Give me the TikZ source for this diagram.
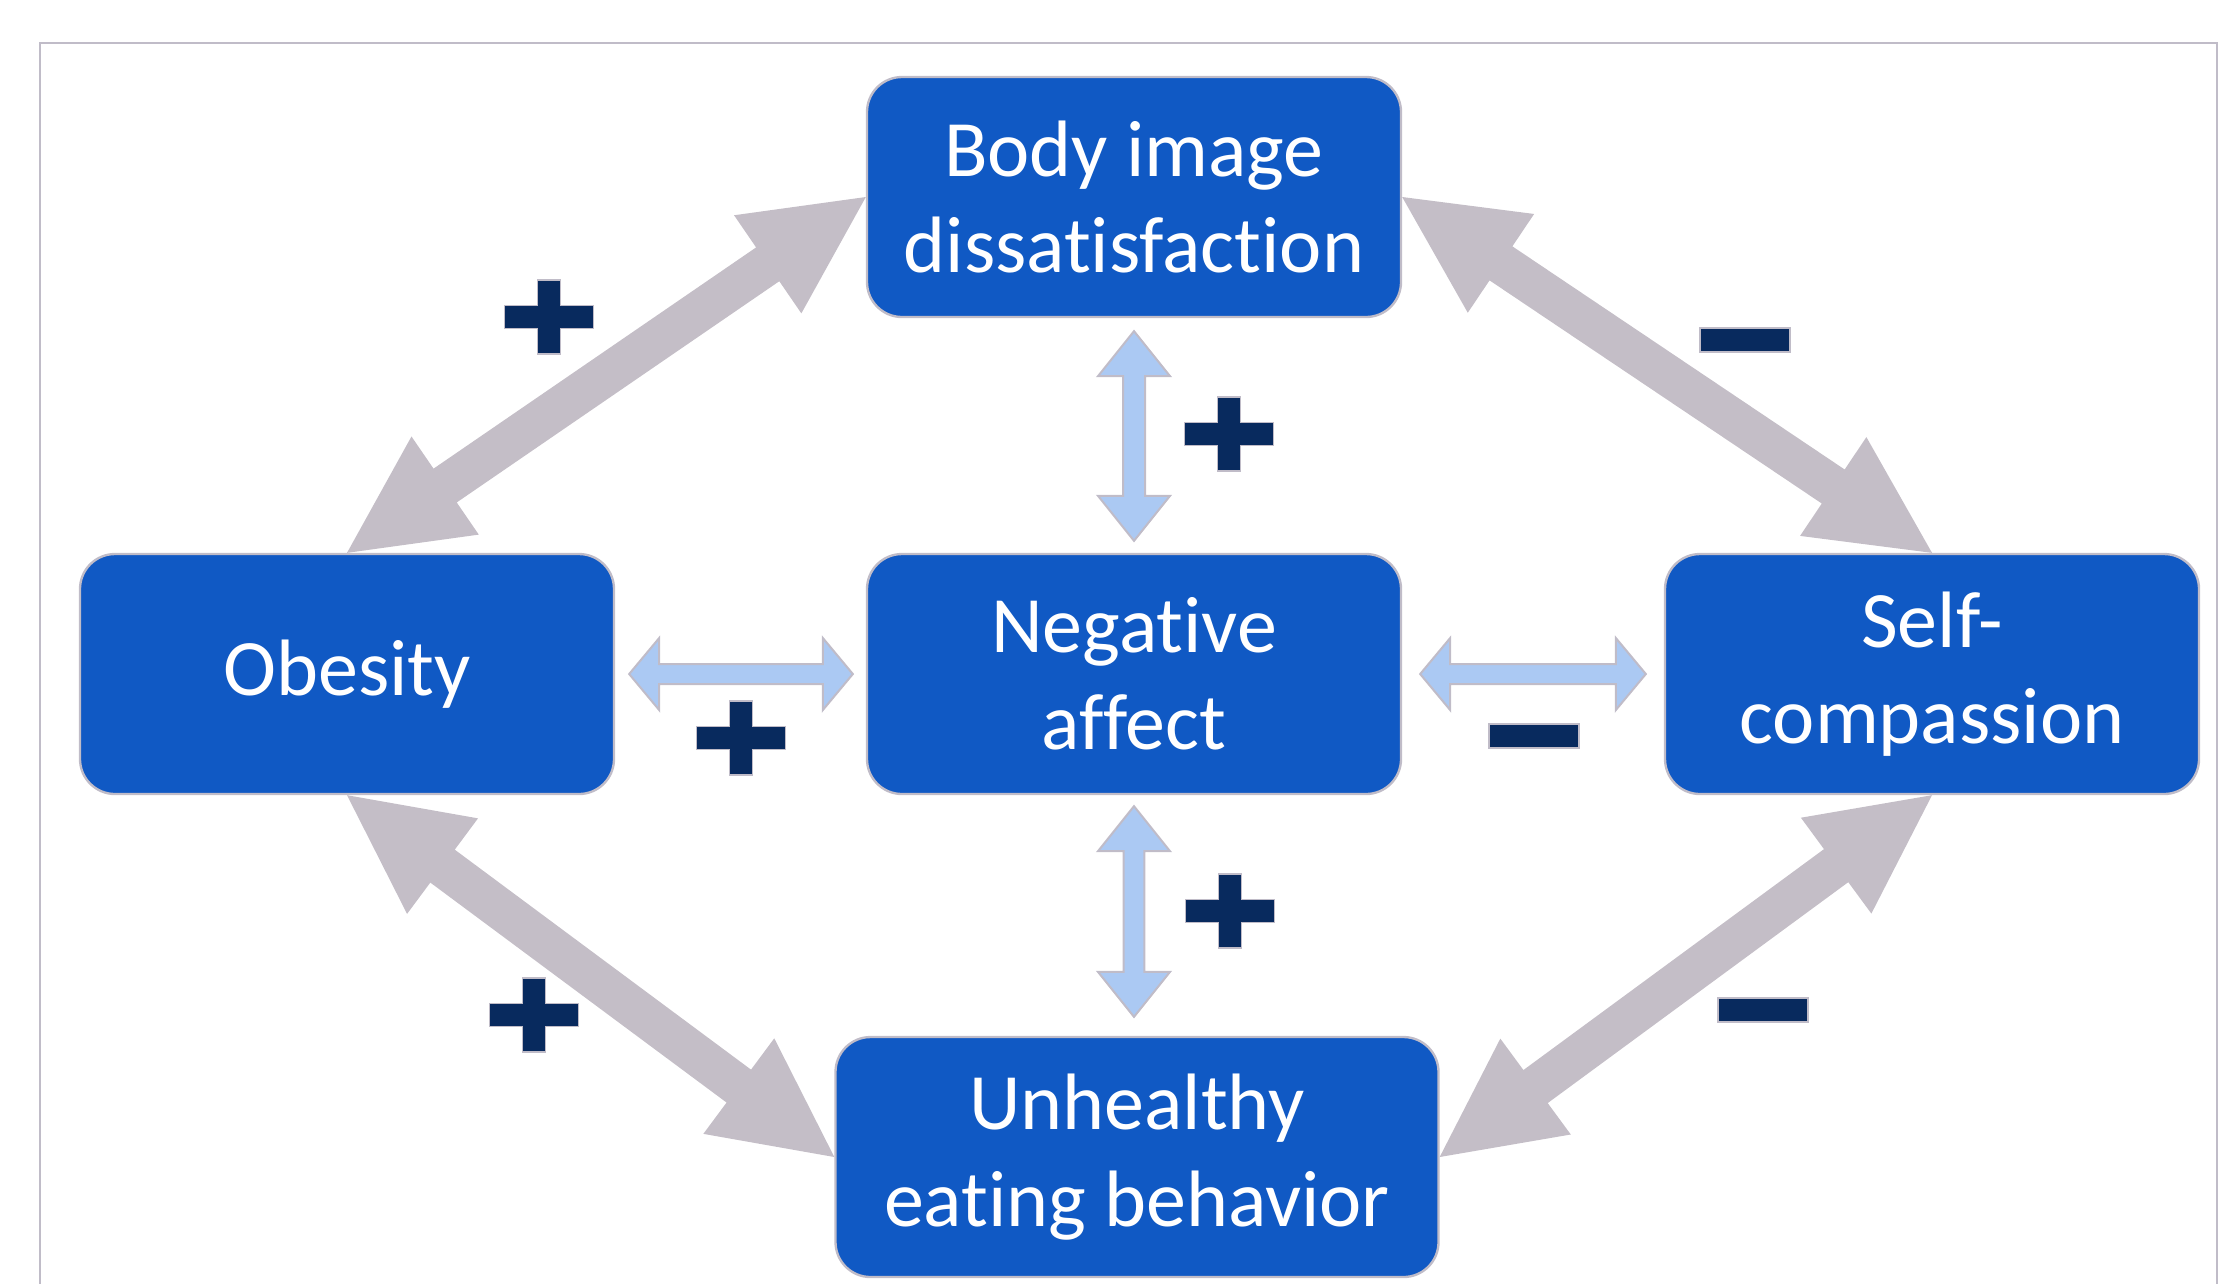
\documentclass[tikz,border=0pt]{standalone}
\usepackage{fontspec}
\setmainfont{Carlito}[Ligatures=NoCommon]
\usetikzlibrary{calc}

\definecolor{boxblue}{RGB}{16,89,196}
\definecolor{boxedge}{RGB}{192,188,200}
\definecolor{linkgray}{RGB}{196,190,199}
\definecolor{paleblue}{RGB}{171,201,243}
\definecolor{signnavy}{RGB}{8,42,94}

% block arrow with a head at both ends: style, tip, tip, head length, head half width, shaft half width
\newcommand{\twoway}[6]{%
  \path[#1] (#2) -- ($(#2)!#4!(#3)!#5!90:(#3)$) -- ($(#2)!#4!(#3)!#6!90:(#3)$)
    -- ($(#3)!#4!(#2)!#6!-90:(#2)$) -- ($(#3)!#4!(#2)!#5!-90:(#2)$) -- (#3)
    -- ($(#3)!#4!(#2)!#5!90:(#2)$) -- ($(#3)!#4!(#2)!#6!90:(#2)$)
    -- ($(#2)!#4!(#3)!#6!-90:(#3)$) -- ($(#2)!#4!(#3)!#5!-90:(#3)$) -- cycle;}
\newcommand{\possign}[1]{\draw[sign] (#1) ++(-11.5,-37) -- ++(23,0) -- ++(0,25.5) -- ++(33,0)
  -- ++(0,23) -- ++(-33,0) -- ++(0,25.5) -- ++(-23,0) -- ++(0,-25.5) -- ++(-33,0) -- ++(0,-23)
  -- ++(33,0) -- cycle;}
\newcommand{\negsign}[1]{\draw[sign] (#1) ++(-45,-12) rectangle ++(90,24);}

\begin{document}
\begin{tikzpicture}
  [x=0.3pt, y=-0.3pt,
   factor/.style={rectangle, rounded corners=10.5pt, draw=boxedge, line width=0.7pt,
     fill=boxblue, text=white, align=center, minimum width=160.2pt, minimum height=72pt,
     inner sep=0pt, font=\fontsize{24}{29}\selectfont},
   link/.style={fill=linkgray},
   mediator/.style={fill=paleblue, draw=boxedge, line width=0.6pt},
   sign/.style={fill=signnavy, draw=boxedge, line width=0.5pt}]
  \useasboundingbox (0,0) rectangle (2226,1283);
  \draw[boxedge, line width=0.6pt] (40,1300) -- (40,43) -- (2217,43) -- (2217,1300);

  \node (body) at (1134,197) [factor] {Body image\\dissatisfaction};
  \node (obes) at (347,674) [factor] {Obesity};
  \node (neg) at (1134,674) [factor] {Negative\\affect};
  \node (self) at (1932,674) [factor] {Self-\\compassion};
  \node (eat) at (1137,1157) [factor, minimum width=180.9pt] {Unhealthy\\eating behavior};

  \twoway{link}{obes.north}{body.west}{35.7pt}{17.85pt}{6.15pt}
  \twoway{link}{body.east}{self.north}{35.7pt}{17.85pt}{6.15pt}
  \twoway{link}{obes.south}{eat.west}{35.7pt}{17.85pt}{6.15pt}
  \twoway{link}{self.south}{eat.east}{35.7pt}{17.85pt}{6.15pt}

  \coordinate (bn1) at ($(body.south)+(0,13)$);
  \coordinate (bn2) at ($(neg.north)+(0,-12)$);
  \coordinate (ne1) at ($(neg.south)+(0,11)$);
  \coordinate (ne2) at ($(neg.south |- eat.north)+(0,-19)$);
  \coordinate (on1) at ($(obes.east)+(14,0)$);
  \coordinate (on2) at ($(neg.west)+(-13,0)$);
  \coordinate (ns1) at ($(neg.east)+(18,0)$);
  \coordinate (ns2) at ($(self.west)+(-18,0)$);
  \twoway{mediator}{bn1}{bn2}{13.5pt}{10.8pt}{3.3pt}
  \twoway{mediator}{ne1}{ne2}{13.5pt}{10.8pt}{3.1pt}
  \twoway{mediator}{on1}{on2}{9pt}{10.8pt}{3pt}
  \twoway{mediator}{ns1}{ns2}{9pt}{10.8pt}{3pt}

  \possign{549,317}
  \negsign{1745,340}
  \possign{1229,434}
  \possign{741,738}
  \negsign{1534,736}
  \possign{1230,911}
  \possign{534,1015}
  \negsign{1763,1010}
\end{tikzpicture}
\end{document}
